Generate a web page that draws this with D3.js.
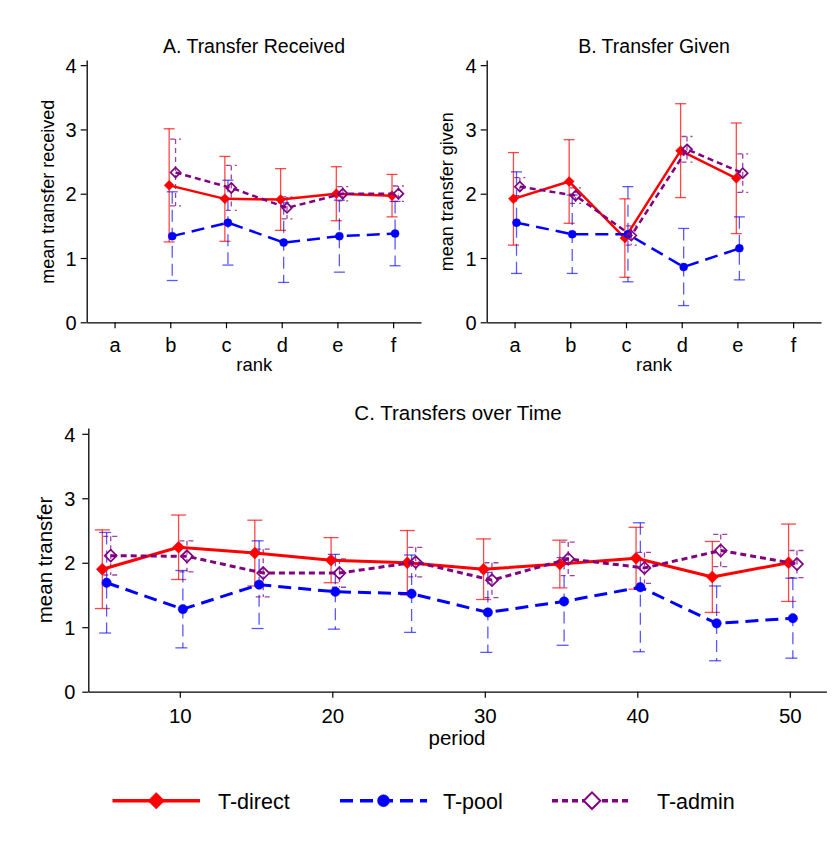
<!DOCTYPE html>
<html><head><meta charset="utf-8">
<script src="https://cdn.jsdelivr.net/npm/d3@7"></script>
<style>
body{margin:0;background:#fff;}
text{font-family:"Liberation Sans",Arial,Helvetica,sans-serif;fill:#000;}
</style>
</head><body>
<script>
// ================= DATA =================
const seriesNames = ["T-direct", "T-pool", "T-admin"];
const ranks = ["a", "b", "c", "d", "e", "f"];
const yTickValues = [0, 1, 2, 3, 4];
const periodTickValues = [10, 20, 30, 40, 50];

// Panel A: Transfer Received (no observations for rank a)
const receivedRanks = ["b", "c", "d", "e", "f"];
const receivedDirect   = [2.13, 1.92, 1.91, 2.00, 1.97];
const receivedDirectCI = [0.88, 0.66, 0.48, 0.42, 0.33];
const receivedPool     = [1.34, 1.55, 1.24, 1.34, 1.38];
const receivedPoolCI   = [0.69, 0.66, 0.62, 0.56, 0.50];
const receivedAdmin    = [2.33, 2.09, 1.78, 2.00, 2.00];
const receivedAdminCI  = [0.52, 0.35, 0.17, 0.11, 0.12];

// Panel B: Transfer Given (no observations for rank f)
const givenRanks = ["a", "b", "c", "d", "e"];
const givenDirect   = [1.92, 2.19, 1.31, 2.67, 2.24];
const givenDirectCI = [0.72, 0.65, 0.61, 0.73, 0.86];
const givenPool     = [1.55, 1.37, 1.37, 0.86, 1.15];
const givenPoolCI   = [0.79, 0.61, 0.74, 0.60, 0.49];
const givenAdmin    = [2.11, 1.97, 1.35, 2.69, 2.32];
const givenAdminCI  = [0.14, 0.12, 0.15, 0.20, 0.30];

// Panel C: Transfers over Time
const periods = [5, 10, 15, 20, 25, 30, 35, 40, 45, 50];
const timeDirect   = [1.90, 2.24, 2.15, 2.04, 2.00, 1.90, 1.98, 2.07, 1.78, 2.00];
const timeDirectCI = [0.61, 0.50, 0.51, 0.35, 0.50, 0.47, 0.37, 0.48, 0.55, 0.60];
const timePool     = [1.69, 1.28, 1.66, 1.55, 1.52, 1.23, 1.40, 1.62, 1.06, 1.14];
const timePoolCI   = [0.78, 0.60, 0.68, 0.58, 0.60, 0.62, 0.68, 1.00, 0.58, 0.62];
const timeAdmin    = [2.11, 2.10, 1.84, 1.84, 2.01, 1.73, 2.06, 1.92, 2.19, 1.98];
const timeAdminCI  = [0.30, 0.24, 0.37, 0.22, 0.23, 0.27, 0.26, 0.24, 0.25, 0.21];

// ================= STYLE =================
const FONT = '"Liberation Sans",Arial,Helvetica,sans-serif';
const sty = {
  "T-direct": {color: "#ff0000", err: "rgba(255,0,0,0.72)", dash: null, errDash: null, marker: "diamond", fill: true},
  "T-pool":   {color: "#0000ff", err: "rgba(0,0,255,0.65)", dash: "13,7", errDash: "12,6", marker: "circle", fill: true},
  "T-admin":  {color: "#800080", err: "rgba(128,0,128,0.75)", dash: "6,4", errDash: "5,4", marker: "diamond", fill: false}
};

const svg = d3.select("body").append("svg")
  .attr("width", 832).attr("height", 841)
  .style("background", "#fff");

function markerPath(kind, s) {
  if (kind === "circle") return d3.symbol(d3.symbolCircle, Math.PI * s * s)();
  return `M0,${-s}L${s},0L0,${s}L${-s},0Z`;
}
function drawMarker(g, name, cx, cy, s) {
  const st = sty[name];
  g.append("path")
    .attr("d", markerPath(st.marker, s))
    .attr("transform", `translate(${cx},${cy})`)
    .attr("fill", st.fill ? st.color : "#fff")
    .attr("fill-opacity", st.fill ? 1 : 0)
    .attr("stroke", st.color)
    .attr("stroke-width", st.fill ? 0.5 : 1.7);
}

function styleAxis(sel, fs) {
  sel.select(".domain").attr("stroke", "#000").attr("stroke-width", 1.3);
  sel.selectAll(".tick line").attr("stroke", "#000").attr("stroke-width", 1.2);
  sel.selectAll(".tick text").style("font-family", FONT).style("font-size", fs + "px").attr("fill", "#000");
}

function drawPanel(cfg) {
  const g = svg.append("g");
  // axes
  const gx = g.append("g").attr("transform", `translate(0,${cfg.y(0)})`)
    .call(d3.axisBottom(cfg.x).tickValues(cfg.xTicks).tickSize(6).tickSizeOuter(0).tickPadding(cfg.xPad)
      .tickFormat(cfg.xFormat || null));
  styleAxis(gx, cfg.xFs);
  const gy = g.append("g").attr("transform", `translate(${cfg.axisX},0)`)
    .call(d3.axisLeft(cfg.y).tickValues(yTickValues).tickFormat(d3.format("d"))
      .tickSize(6).tickSizeOuter(0).tickPadding(cfg.yPad));
  styleAxis(gy, cfg.yFs);
  gy.selectAll(".tick text").attr("dy", "0.36em");

  // titles
  g.append("text").attr("x", cfg.title[1]).attr("y", cfg.title[2])
    .attr("text-anchor", "middle").style("font-size", cfg.titleFs + "px").text(cfg.title[0]);
  g.append("text").attr("x", cfg.xLabel[1]).attr("y", cfg.xLabel[2])
    .attr("text-anchor", "middle").style("font-size", cfg.labFs + "px").text(cfg.xLabel[0]);
  g.append("text").attr("transform", `translate(${cfg.yLabel[1]},${cfg.yLabel[2]}) rotate(-90)`)
    .attr("text-anchor", "middle").style("font-size", cfg.yLabFs + "px").text(cfg.yLabel[0]);

  // error bars
  cfg.series.forEach(s => {
    const st = sty[s.name];
    s.xs.forEach((xv, i) => {
      const cx = cfg.pos(xv, s.name);
      const y1 = cfg.y(s.mean[i] + s.ci[i]), y2 = cfg.y(s.mean[i] - s.ci[i]);
      const eg = g.append("g").attr("stroke", st.err).attr("stroke-width", 1.3).attr("fill", "none");
      if (st.errDash) eg.attr("stroke-dasharray", st.errDash);
      eg.append("line").attr("x1", cx).attr("x2", cx).attr("y1", y1).attr("y2", y2);
      eg.append("line").attr("x1", cx - cfg.cap).attr("x2", cx + cfg.cap).attr("y1", y1).attr("y2", y1);
      eg.append("line").attr("x1", cx - cfg.cap).attr("x2", cx + cfg.cap).attr("y1", y2).attr("y2", y2);
    });
  });
  // lines + markers
  cfg.series.forEach(s => {
    const st = sty[s.name];
    const pts = s.xs.map((xv, i) => [cfg.pos(xv, s.name), cfg.y(s.mean[i])]);
    const p = g.append("path").attr("d", d3.line()(pts))
      .attr("fill", "none").attr("stroke", st.color).attr("stroke-width", cfg.lw)
      .attr("stroke-linejoin", "round");
    if (st.dash) p.attr("stroke-dasharray", st.dash);
    pts.forEach(pt => drawMarker(g, s.name, pt[0], pt[1], st.marker === "circle" ? cfg.rC : cfg.rD));
  });
}

// ---------- Panel A ----------
const rankOffset = {"T-direct": -0.02, "T-pool": 0.035, "T-admin": 0.095};
const xA = d3.scalePoint().domain(ranks).range([86.7, 421]).padding(0.5);
const yA = d3.scaleLinear().domain([0, 4.08]).range([322.3, 60]);
drawPanel({
  x: xA, y: yA, xTicks: ranks, axisX: 86.7, xPad: 10, yPad: 4, xFs: 20, yFs: 20,
  title: ["A. Transfer Received", 254, 52.7], titleFs: 19.5,
  xLabel: ["rank", 254.3, 370.5], labFs: 18.5,
  yLabel: ["mean transfer received", 54, 191.7], yLabFs: 18,
  pos: (c, n) => xA(c) + rankOffset[n] * xA.step(),
  cap: 5.5, lw: 2.5, rC: 4, rD: 5,
  series: [
    {name: "T-direct", xs: receivedRanks, mean: receivedDirect, ci: receivedDirectCI},
    {name: "T-pool", xs: receivedRanks, mean: receivedPool, ci: receivedPoolCI},
    {name: "T-admin", xs: receivedRanks, mean: receivedAdmin, ci: receivedAdminCI}
  ]
});

// ---------- Panel B ----------
const xB = d3.scalePoint().domain(ranks).range([486.7, 821]).padding(0.5);
const yB = d3.scaleLinear().domain([0, 4.08]).range([322.3, 60]);
drawPanel({
  x: xB, y: yB, xTicks: ranks, axisX: 486.7, xPad: 10, yPad: 4, xFs: 20, yFs: 20,
  title: ["B. Transfer Given", 654, 52.7], titleFs: 19.5,
  xLabel: ["rank", 654, 370.5], labFs: 18.5,
  yLabel: ["mean transfer given", 453, 191.7], yLabFs: 18,
  pos: (c, n) => xB(c) + rankOffset[n] * xB.step(),
  cap: 5.5, lw: 2.5, rC: 4, rD: 5,
  series: [
    {name: "T-direct", xs: givenRanks, mean: givenDirect, ci: givenDirectCI},
    {name: "T-pool", xs: givenRanks, mean: givenPool, ci: givenPoolCI},
    {name: "T-admin", xs: givenRanks, mean: givenAdmin, ci: givenAdminCI}
  ]
});

// ---------- Panel C ----------
const periodOffset = {"T-direct": -0.08, "T-pool": 0.2, "T-admin": 0.47};
const xC = d3.scaleLinear().domain([4, 52.4]).range([88.3, 826.4]);
const yC = d3.scaleLinear().domain([0, 4.09]).range([691.7, 428]);
drawPanel({
  x: xC, y: yC, xTicks: periodTickValues, xFormat: d3.format("d"), axisX: 88.3, xPad: 11, yPad: 7, xFs: 20.5, yFs: 20,
  title: ["C. Transfers over Time", 458, 420], titleFs: 20.5,
  xLabel: ["period", 457, 745], labFs: 20.5,
  yLabel: ["mean transfer", 52, 560], yLabFs: 20.5,
  pos: (p, n) => xC(p + periodOffset[n]),
  cap: 7.5, lw: 3, rC: 4.7, rD: 6,
  series: [
    {name: "T-direct", xs: periods, mean: timeDirect, ci: timeDirectCI},
    {name: "T-pool", xs: periods, mean: timePool, ci: timePoolCI},
    {name: "T-admin", xs: periods, mean: timeAdmin, ci: timeAdminCI}
  ]
});

// ---------- Legend ----------
const legendLayout = [
  {x1: 112.5, x2: 200, tx: 218},
  {x1: 340, x2: 427, tx: 443},
  {x1: 552, x2: 632, tx: 657}
];
const legY = 800.7;
const lg = svg.append("g");
seriesNames.forEach((n, i) => {
  const L = legendLayout[i], st = sty[n];
  const ln = lg.append("line").attr("x1", L.x1).attr("x2", L.x2).attr("y1", legY).attr("y2", legY)
    .attr("stroke", st.color).attr("stroke-width", 3.5);
  if (st.dash) ln.attr("stroke-dasharray", st.dash);
  const mx = (L.x1 + L.x2) / 2;
  lg.append("path").attr("d", markerPath(st.marker, st.marker === "circle" ? 6 : 8.3))
    .attr("transform", `translate(${mx},${legY})`)
    .attr("fill", st.fill ? st.color : "#fff")
    .attr("stroke", st.color).attr("stroke-width", st.fill ? 0.5 : 2);
  lg.append("text").attr("x", L.tx).attr("y", 808.5).style("font-size", "21.5px").text(n);
});
</script>
</body></html>
